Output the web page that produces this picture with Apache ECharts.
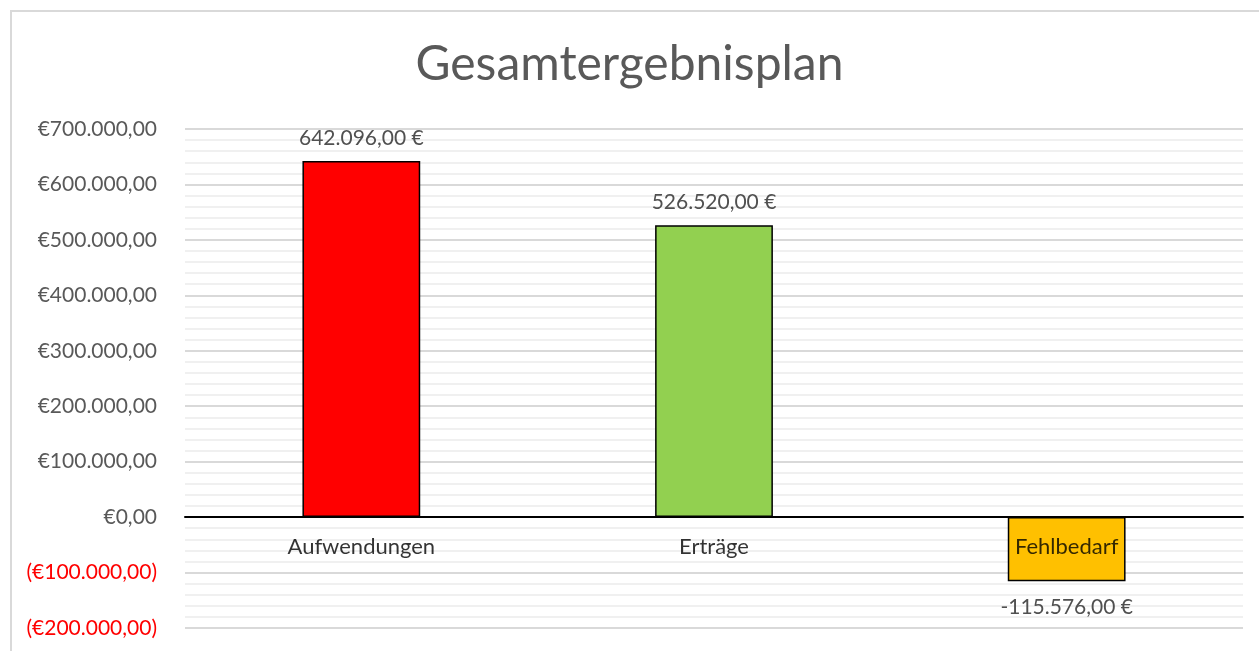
<!DOCTYPE html>
<html>
<head>
<meta charset="utf-8">
<script src="https://cdn.jsdelivr.net/npm/echarts@6/dist/echarts.min.js"></script>
<style>
html, body { margin: 0; padding: 0; background: #fff; }
#frame { position: absolute; left: 10px; top: 10px; width: 1300px; height: 700px; border: 2px solid #d9d9d9; box-sizing: border-box; }
#main { position: absolute; left: 0; top: 0; width: 1259px; height: 651px; }
</style>
</head>
<body>
<div id="frame"></div>
<div id="main"></div>
<script>
// Daten
const categories = ['Aufwendungen', 'Erträge', 'Fehlbedarf'];
const values = [642096, 526520, -115576];
const barColors = ['#ff0000', '#92d050', '#ffc000'];

function de(n) {
    let s = Math.abs(n).toFixed(2).split('.');
    let int = s[0].replace(/\B(?=(\d{3})+(?!\d))/g, '.');
    return int + ',' + s[1];
}

let chart = echarts.init(document.getElementById('main'));
chart.setOption({
    animation: false,
    title: {
        text: 'Gesamtergebnisplan',
        left: 'center',
        top: 36,
        textStyle: { fontFamily: 'Lato', fontWeight: 'normal', fontSize: 48, color: '#595959' }
    },
    grid: { left: 185, right: 16, top: 129, bottom: 23, containLabel: false, outerBoundsMode: 'none' },
    xAxis: {
        type: 'category',
        data: categories,
        z: 10,
        axisLine: { onZero: true, lineStyle: { color: '#000', width: 2 } },
        axisTick: { show: false },
        axisLabel: { show: false }
    },
    yAxis: {
        type: 'value',
        min: -200000,
        max: 700000,
        interval: 100000,
        axisLine: { show: false },
        axisTick: { show: false },
        axisLabel: {
            margin: 28,
            fontFamily: 'Lato',
            fontSize: 21,
            color: function (v) { return v < 0 ? '#ff0000' : '#595959'; },
            formatter: function (v) { return v < 0 ? '(€' + de(v) + ')' : '€' + de(v); }
        },
        splitLine: { lineStyle: { color: '#d9d9d9', width: 2 } },
        minorTick: { show: false, splitNumber: 5 },
        minorSplitLine: { show: true, lineStyle: { color: '#f0f0f0', width: 2 } }
    },
    series: [{
        type: 'bar',
        barWidth: '33.4%',
        data: values.map((v, i) => ({
            value: v,
            itemStyle: { color: barColors[i] },
            label: { position: v < 0 ? 'bottom' : 'top', distance: v < 0 ? 16 : 12 }
        })),
        itemStyle: { borderColor: '#000', borderWidth: 1.5 },
        label: {
            show: true,
            fontFamily: 'Lato',
            fontSize: 21,
            color: '#505050',
            formatter: p => (p.value < 0 ? '-' : '') + de(p.value) + ' €'
        }
    }, {
        // Kategorienamen direkt unter der Nulllinie
        type: 'scatter',
        z: 20,
        symbolSize: 0,
        silent: true,
        data: categories.map(() => 0),
        label: {
            show: true,
            position: 'bottom',
            distance: 19,
            fontFamily: 'Lato',
            fontSize: 22,
            color: '#000',
            formatter: p => categories[p.dataIndex]
        }
    }]
});
</script>
</body>
</html>
